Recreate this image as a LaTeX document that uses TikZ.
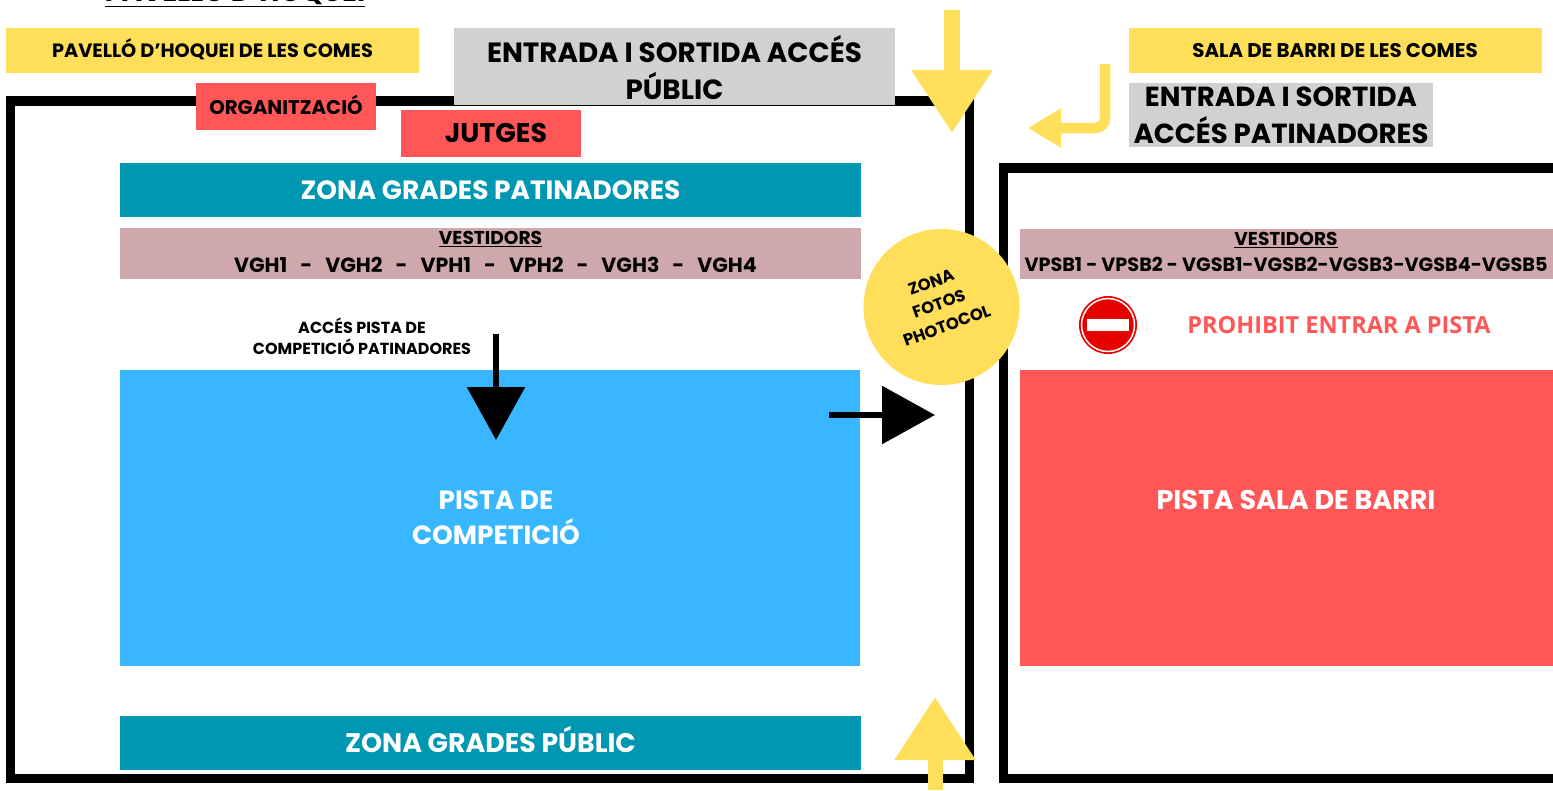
\documentclass[tikz,border=0pt]{standalone}
\usepackage{fontspec}
\setmainfont{Poppins}
\newfontfamily\opensans{Open Sans}
\usetikzlibrary{arrows.meta}
\definecolor{groc}{HTML}{FFDE59}
\definecolor{gris}{HTML}{D0D2CF}
\definecolor{vermell}{HTML}{FF5757}
\definecolor{teal}{HTML}{0097B2}
\definecolor{rosa}{HTML}{CFA8AD}
\definecolor{blau}{HTML}{38B6FF}
\definecolor{senyal}{HTML}{E60000}
\newcommand{\fs}[2]{\fontsize{#1}{#2}\selectfont\bfseries}
\tikzset{
  zona/.style={inner sep=0pt, align=center, text=white},
  etiqueta/.style={inner sep=0pt, align=center, text=black},
  marc/.style={draw=black, line width=9.5pt, line join=miter},
  fletxagroga/.style={draw=groc, line width=15pt, -{Triangle[width=77pt,length=63pt]}},
  fletxanegra/.style={draw=black, line width=6pt, -{Triangle[width=57pt,length=53pt]}}
}
\begin{document}
\begin{tikzpicture}[x=1pt,y=-1pt]
  \clip (0,0) rectangle (1553,790);
  \fill[white] (0,0) rectangle (1553,790);
  % title, cut by the top edge
  \node[etiqueta, font=\fs{27.5}{30}] (titol) at (235,-9) {\underline{PAVELLÓ D'HOQUEI}};
  % frames
  \draw[marc] (10.5,101) rectangle (969.5,778.5);
  \coordinate (fa) at (1553,168);
  \coordinate (fb) at (1003.5,168);
  \coordinate (fc) at (1003.5,778.5);
  \coordinate (fd) at (1553,778.5);
  \draw[marc] (fa) -- (fb) -- (fc) -- (fd);
  % left hall
  \fill[groc] (6,28) rectangle (419,73);
  \node[etiqueta, font=\fs{19.3}{22}] (pavello) at (212.5,49.5) {PAVELLÓ D'HOQUEI DE LES COMES};
  \fill[gris] (454,28) rectangle (895,105);
  \node[etiqueta, font=\fs{27.8}{37}] (entrada) at (674.5,68) {ENTRADA I SORTIDA ACCÉS\\PÚBLIC};
  \fill[vermell] (196,83) rectangle (376,130);
  \node[etiqueta, font=\fs{19.8}{22}] (organitzacio) at (286,105) {ORGANITZACIÓ};
  \fill[vermell] (401,110) rectangle (581,157);
  \node[etiqueta, font=\fs{27}{30}] (jutges) at (496,133) {JUTGES};
  \fill[teal] (120,163) rectangle (861,217);
  \node[zona, font=\fs{26.4}{30}] (gradespat) at (490.5,190) {ZONA GRADES PATINADORES};
  \fill[rosa] (120,228) rectangle (861,279);
  \node[etiqueta, font=\fs{18.6}{20}] (vestidors) at (490.5,239) {\underline{VESTIDORS}};
  \node[etiqueta, font=\fs{20.5}{23}] (vgh) at (495.5,265) {VGH1\ \ \ -\ \ \ VGH2\ \ \ -\ \ \ VPH1\ \ \ -\ \ \ VPH2\ \ \ -\ \ \ VGH3\ \ \ -\ \ \ VGH4};
  \node[etiqueta, font=\fs{16}{21}] (acces) at (362,336) {ACCÉS PISTA DE\\COMPETICIÓ PATINADORES};
  \fill[blau] (120,370) rectangle (860,666);
  \node[zona, font=\fs{26.4}{35}] (pista) at (496,517.5) {PISTA DE\\COMPETICIÓ};
  \fill[teal] (120,716) rectangle (861,770);
  \node[zona, font=\fs{26.8}{30}] (gradespub) at (490.5,739.5) {ZONA GRADES PÚBLIC};
  % right hall
  \fill[groc] (1129,28) rectangle (1542,73);
  \node[etiqueta, font=\fs{19.8}{22}] (sala) at (1335,50.5) {SALA DE BARRI DE LES COMES};
  \fill[gris] (1129,83) rectangle (1433,147);
  \node[etiqueta, font=\fs{27.6}{37}] (entradab) at (1281,115.5) {ENTRADA I SORTIDA\\ACCÉS PATINADORES};
  \fill[rosa] (1020,229) rectangle (1553,279);
  \node[etiqueta, font=\fs{18.6}{20}] (vestidorsb) at (1286,240) {\underline{VESTIDORS}};
  \node[etiqueta, font=\fs{19.2}{22}] (vpsb) at (1286,264) {VPSB1 - VPSB2 - VGSB1-VGSB2-VGSB3-VGSB4-VGSB5};
  \node[inner sep=0pt, text=vermell, font=\opensans\fs{23.5}{26}] (prohibit) at (1339,325.5) {PROHIBIT ENTRAR A PISTA};
  \fill[vermell] (1020,370) rectangle (1553,666);
  \node[zona, font=\fs{27}{30}] (pistab) at (1296,500) {PISTA SALA DE BARRI};
  % no entry sign
  \fill[senyal] (1108,325) circle (29);
  \draw[white, line width=1.5pt] (1108,325) circle (26.5);
  \fill[white] (1087,319) rectangle (1129,331);
  % photo zone
  \fill[groc] (941.5,307) circle (78);
  \node[etiqueta, rotate=20, font=\fs{16.5}{23}] (fotos) at (939,304) {ZONA\\FOTOS\\PHOTOCOL};
  % arrows
  \coordinate (ea) at (952,10);
  \coordinate (eb) at (952,133);
  \draw[fletxagroga, line width=16pt] (ea) -- (eb);
  \coordinate (sa) at (935,790);
  \coordinate (sb) at (935,697);
  \draw[fletxagroga] (sa) -- (sb);
  \coordinate (pa) at (1105,64);
  \coordinate (pb) at (1105,128);
  \coordinate (pc) at (1028,128);
  \draw[draw=groc, line width=10.5pt, rounded corners=10pt, -{Triangle[width=37pt,length=33pt]}] (pa) -- (pb) -- (pc);
  \coordinate (na) at (496,334);
  \coordinate (nb) at (496,440);
  \draw[fletxanegra] (na) -- (nb);
  \coordinate (ma) at (829,415);
  \coordinate (mb) at (935,415);
  \draw[fletxanegra] (ma) -- (mb);
\end{tikzpicture}
\end{document}
